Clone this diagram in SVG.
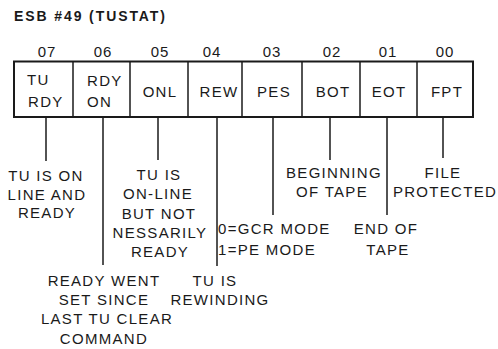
<svg xmlns="http://www.w3.org/2000/svg" width="498" height="349" viewBox="0 0 498 349">
<style>
text{font-family:"Liberation Sans",Arial,sans-serif;fill:#1a1a1a;font-size:15px;letter-spacing:1.3px}
.c{text-anchor:middle}
.t{font-size:14px;font-weight:bold;letter-spacing:1.9px}
.n{letter-spacing:1px}
.box{fill:#fff;stroke:#1a1a1a;stroke-width:2}
.div{stroke:#1a1a1a;stroke-width:1.5}
.ln{stroke:#1a1a1a;stroke-width:1.5;fill:none}
</style>
<rect width="498" height="349" fill="#fff"/>
<text class="t" x="14" y="21">ESB #49 (TUSTAT)</text>
<g id="register">
<rect class="box" x="14" y="61.5" width="459" height="55.5"/>
<line class="div" x1="73" y1="61.5" x2="73" y2="117"/>
<line class="div" x1="130" y1="61.5" x2="130" y2="117"/>
<line class="div" x1="188" y1="61.5" x2="188" y2="117"/>
<line class="div" x1="242" y1="61.5" x2="242" y2="117"/>
<line class="div" x1="302" y1="61.5" x2="302" y2="117"/>
<line class="div" x1="360" y1="61.5" x2="360" y2="117"/>
<line class="div" x1="417" y1="61.5" x2="417" y2="117"/>
</g>
<g id="bit07"><text class="c n" x="47" y="57">07</text><text x="27" y="85">TU</text><text x="28" y="107">RDY</text></g>
<g id="bit06"><text class="c n" x="103" y="57">06</text><text x="87" y="86">RDY</text><text x="87" y="107">ON</text></g>
<g id="bit05"><text class="c n" x="160" y="57">05</text><text class="c" x="160" y="97">ONL</text></g>
<g id="bit04"><text class="c n" x="212" y="57">04</text><text class="c" x="219" y="97">REW</text></g>
<g id="bit03"><text class="c n" x="272" y="57">03</text><text class="c" x="274" y="97">PES</text></g>
<g id="bit02"><text class="c n" x="332" y="57">02</text><text class="c" x="333" y="97">BOT</text></g>
<g id="bit01"><text class="c n" x="388" y="57">01</text><text class="c" x="389" y="97">EOT</text></g>
<g id="bit00"><text class="c n" x="445" y="57">00</text><text class="c" x="447" y="97">FPT</text></g>
<g id="connectors">
<line class="ln" x1="46" y1="117" x2="46" y2="161"/>
<line class="ln" x1="103" y1="117" x2="103" y2="265"/>
<line class="ln" x1="158" y1="117" x2="158" y2="160"/>
<line class="ln" x1="217" y1="117" x2="217" y2="266"/>
<line class="ln" x1="273" y1="117" x2="273" y2="215"/>
<line class="ln" x1="330" y1="117" x2="330" y2="160"/>
<line class="ln" x1="387" y1="117" x2="387" y2="215"/>
<line class="ln" x1="443" y1="117" x2="443" y2="158"/>
</g>
<g id="desc07"><text class="c" x="46" y="181">TU IS ON</text><text class="c" x="47" y="200">LINE AND</text><text class="c" x="47" y="218">READY</text></g>
<g id="desc05"><text class="c" x="159" y="180">TU IS</text><text class="c" x="158" y="199">ON-LINE</text><text class="c" x="159" y="219">BUT NOT</text><text class="c" x="160" y="238">NESSARILY</text><text class="c" x="160" y="257">READY</text></g>
<g id="desc03"><text x="218" y="234">0=GCR MODE</text><text x="218" y="255">1=PE MODE</text></g>
<g id="desc06"><text class="c" x="104" y="286">READY WENT</text><text class="c" x="104" y="305">SET SINCE</text><text class="c" x="107" y="324">LAST TU CLEAR</text><text class="c" x="104" y="344">COMMAND</text></g>
<g id="desc04"><text class="c" x="215" y="286">TU IS</text><text class="c" x="220" y="305">REWINDING</text></g>
<g id="desc02"><text class="c" x="334" y="178">BEGINNING</text><text class="c" x="332" y="197">OF TAPE</text></g>
<g id="desc00"><text class="c" x="443" y="178">FILE</text><text class="c" x="445" y="197">PROTECTED</text></g>
<g id="desc01"><text class="c" x="386" y="234">END OF</text><text class="c" x="388" y="255">TAPE</text></g>
</svg>
